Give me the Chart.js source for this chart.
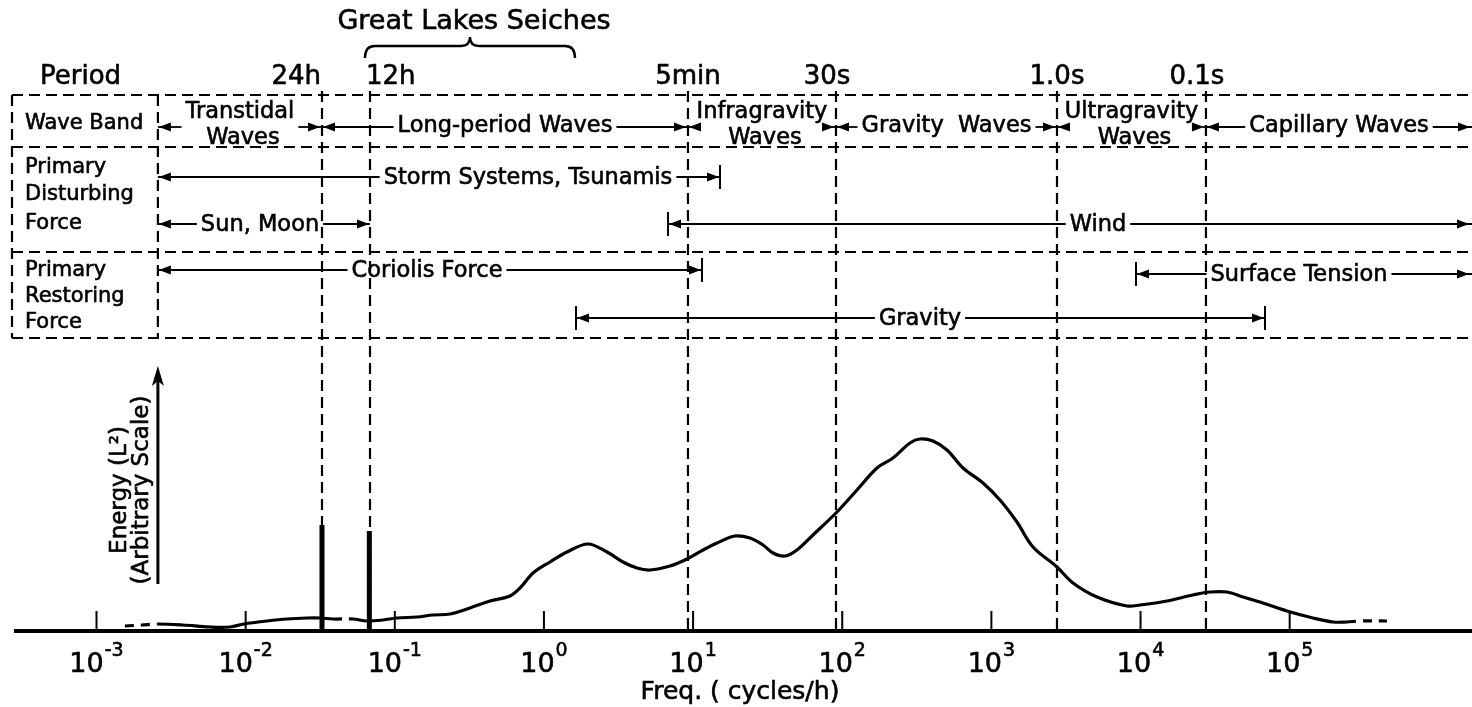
<!DOCTYPE html>
<html><head><meta charset="utf-8">
<script src="https://cdn.jsdelivr.net/npm/chart.js@4.4.1/dist/chart.umd.min.js"></script>
<style>html,body{margin:0;padding:0;background:#fff;}canvas{display:block;}</style>
</head><body>
<canvas id="c" width="1472" height="707"></canvas>
<script>
// ---------------- data (frequency in cycles/h, energy in arbitrary units) ----------------
const freqMin = 2.254e-4;
const freqMax = 1.669e6;
const tickExponents = [-3, -2, -1, 0, 1, 2, 3, 4, 5];

const curveFreq = [1.55e-3, 2.02e-3, 2.58e-3, 3.80e-3, 5.77e-3, 7.86e-3, 9.75e-3, 1.39e-2, 1.89e-2, 2.58e-2,
  3.15e-2, 3.85e-2, 5.24e-2, 6.51e-2, 8.33e-2, 0.1035, 0.1408, 0.1803, 0.2345, 0.319,
  0.435, 0.592, 0.691, 0.845, 1.098, 1.427, 1.974, 2.647, 3.388, 4.206,
  5.140, 7.001, 9.101, 11.65, 14.46, 19.10, 24.07, 29.42, 34.33, 41.32,
  49.74, 63.67, 92.22, 125.6, 171.0, 218.9, 284.6, 332.1, 405.9, 503.9,
  645.0, 878.5, 1142, 1484, 1901, 2754, 3525, 5105, 8113, 9915,
  15040, 22470, 29220, 37980, 48630, 66230, 95920, 143300, 195200, 242200,
  296000, 449100];
const curveEnergy = [0.5, 0.6, 0.7, 0.6, 0.4, 0.4, 0.7, 1.0, 1.2, 1.3,
  1.3, 1.2, 1.2, 1.0, 1.1, 1.3, 1.4, 1.6, 1.7, 2.3,
  3.0, 3.5, 4.3, 5.8, 6.9, 7.9, 8.7, 7.9, 6.9, 6.3,
  6.1, 6.5, 7.2, 8.1, 8.8, 9.5, 9.3, 8.6, 7.8, 7.5,
  8.1, 9.6, 11.9, 14.1, 16.3, 17.3, 18.8, 19.2, 19.0, 18.1,
  16.3, 14.8, 13.1, 10.9, 8.4, 6.4, 4.8, 3.4, 2.5, 2.6,
  3.0, 3.6, 3.9, 3.9, 3.4, 2.8, 2.0, 1.3, 0.9, 0.9,
  1.0, 1.0];
const dashedRanges = [[1.5e-3, 2.6e-3], [3.8e-2, 5.3e-2], [2.4e5, 4.6e5]];

const tideFreq = [3.25e-2, 6.75e-2];
const tideEnergy = [10.6, 10.0];

const periodLabels = ['24h', '12h', '5min', '30s', '1.0s', '0.1s'];
const periodFreq = [3.25e-2, 6.82e-2, 9.24, 90.8, 2754, 27460];
const tableLeftFreq = 2.58e-3;
const seicheRange = [6.31e-2, 1.615];

const bandNames = [['Transtidal', 'Waves'], ['Long-period Waves'], ['Infragravity', 'Waves'],
  ['Gravity  Waves'], ['Ultragravity', 'Waves'], ['Capillary Waves']];
const bandEdges = [2.58e-3, 3.25e-2, 9.24, 90.8, 2754, 27460, 1.669e6];

const disturbingNames = ['Storm Systems, Tsunamis', 'Sun, Moon', 'Wind'];
const disturbingFrom = [2.58e-3, 2.58e-3, 6.79];
const disturbingTo = [15.15, 6.82e-2, 1.669e6];
const disturbingLabelAt = [0.7818, 1.248e-2, 5184];

const restoringNames = ['Coriolis Force', 'Surface Tension', 'Gravity'];
const restoringFrom = [2.58e-3, 9322, 1.640];
const restoringTo = [11.47, 1.669e6, 68310];
const restoringLabelAt = [0.1644, 115500, 332.1];

// ---------------- styles / layout ----------------
const FONT = '"DejaVu Sans", "Liberation Sans", sans-serif';
const BASE_Y_PAD = 76;
const TEXT_PX = 22.5;
const HEADER_PX = 21;
const periodAlign = ['right', 'left', 'center', 'center', 'center', 'center'];
const periodDx = [-1, -4, 0, -9, 0, -9];
const disturbingY = [177, 224, 224];
const disturbingBars = [[false, true], [false, false], [true, false]];
const restoringY = [270, 274, 318];
const restoringBars = [[false, true], [true, false], [true, true]];
const TABLE = {left: 12, top: 95, rows: [147, 252], bottom: 338};

function isDashed(a, b) {
  return dashedRanges.some(r => a >= r[0] && b <= r[1]);
}

function txt(ctx, s, x, y) {
  ctx.fillText(s, x, y);
  ctx.save();
  ctx.setLineDash([]);
  ctx.lineWidth = 0.6;
  ctx.strokeText(s, x, y);
  ctx.restore();
}
function head(ctx, x, y, dir) {
  ctx.beginPath();
  ctx.moveTo(x, y);
  ctx.lineTo(x - dir * 12, y - 4.5);
  ctx.lineTo(x - dir * 12, y + 4.5);
  ctx.closePath();
  ctx.fill();
}
function hline(ctx, x1, x2, y) {
  if (x2 <= x1) return;
  ctx.beginPath(); ctx.moveTo(x1, y); ctx.lineTo(x2, y); ctx.stroke();
}
function vline(ctx, x, y1, y2) {
  ctx.beginPath(); ctx.moveTo(x, y1); ctx.lineTo(x, y2); ctx.stroke();
}

function rangeArrow(ctx, xa, xb, y, label, xc, bars) {
  ctx.font = TEXT_PX + 'px ' + FONT;
  ctx.textAlign = 'center';
  ctx.textBaseline = 'middle';
  const w = ctx.measureText(label).width;
  txt(ctx, label, xc, y + 1);
  ctx.setLineDash([]);
  ctx.lineWidth = 1.8;
  hline(ctx, xa, xc - w / 2 - 4, y);
  hline(ctx, xc + w / 2 + 4, xb, y);
  head(ctx, xa + 1, y, -1);
  head(ctx, Math.min(xb, 1470) - 1, y, 1);
  ctx.lineWidth = 2;
  if (bars[0]) vline(ctx, xa, y - 12, y + 12);
  if (bars[1]) vline(ctx, xb, y - 12, y + 12);
}

const annotations = {
  id: 'annotations',
  beforeDatasetsDraw(chart) {
    const ctx = chart.ctx;
    const xs = chart.scales.x;
    const ys = chart.scales.y;
    const px = v => xs.getPixelForValue(v);
    const base = ys.getPixelForValue(0);
    ctx.save();
    ctx.strokeStyle = '#000';
    ctx.fillStyle = '#000';
    // baseline
    ctx.lineWidth = 4;
    ctx.setLineDash([]);
    hline(ctx, 14, chart.width, base);
    // ticks
    ctx.lineWidth = 2;
    tickExponents.forEach(e => vline(ctx, px(Math.pow(10, e)), base - 20, base));
    // tick labels
    ctx.textBaseline = 'alphabetic';
    tickExponents.forEach(e => {
      const cx = px(Math.pow(10, e));
      ctx.font = '27px ' + FONT;
      const w1 = ctx.measureText('10').width;
      ctx.font = '19px ' + FONT;
      const ex = e < 0 ? '-' + Math.abs(e) : String(e);
      const w2 = ctx.measureText(ex).width;
      const x0 = cx - (w1 + w2 + 1) / 2;
      ctx.textAlign = 'left';
      ctx.font = '27px ' + FONT;
      txt(ctx, '10', x0, base + 41);
      ctx.font = '19px ' + FONT;
      txt(ctx, ex, x0 + w1 + 1, base + 25);
    });
    ctx.font = '25px ' + FONT;
    ctx.textAlign = 'center';
    txt(ctx, 'Freq. ( cycles/h)', 740, base + 68);

    // dashed period lines
    ctx.lineWidth = 2.2;
    ctx.setLineDash([11, 6]);
    periodFreq.forEach(f => vline(ctx, px(f), TABLE.top - 4, base));
    // table
    vline(ctx, px(tableLeftFreq), TABLE.top, TABLE.bottom);
    vline(ctx, TABLE.left, TABLE.top, TABLE.bottom);
    [TABLE.top, ...TABLE.rows, TABLE.bottom].forEach(y => hline(ctx, TABLE.left, chart.width, y));
    ctx.setLineDash([]);
    ctx.restore();
  },
  afterDraw(chart) {
    const ctx = chart.ctx;
    const xs = chart.scales.x;
    const px = v => xs.getPixelForValue(v);
    ctx.save();
    ctx.strokeStyle = '#000';
    ctx.fillStyle = '#000';

    // title + brace
    ctx.font = '27px ' + FONT;
    ctx.textAlign = 'center';
    ctx.textBaseline = 'middle';
    txt(ctx, 'Great Lakes Seiches', 474, 22);
    const b1 = px(seicheRange[0]), b2 = px(seicheRange[1]), bm = (b1 + b2) / 2;
    ctx.lineWidth = 2.4;
    ctx.beginPath();
    ctx.moveTo(b1, 58);
    ctx.quadraticCurveTo(b1, 46, b1 + 10, 46);
    ctx.lineTo(bm - 9, 46);
    ctx.quadraticCurveTo(bm, 46, bm, 37);
    ctx.quadraticCurveTo(bm, 46, bm + 9, 46);
    ctx.lineTo(b2 - 10, 46);
    ctx.quadraticCurveTo(b2, 46, b2, 58);
    ctx.stroke();

    // period labels
    ctx.font = '26px ' + FONT;
    ctx.textBaseline = 'alphabetic';
    ctx.textAlign = 'left';
    txt(ctx, 'Period', 40, 84);
    periodLabels.forEach((t, i) => {
      ctx.textAlign = periodAlign[i];
      txt(ctx, t, px(periodFreq[i]) + periodDx[i], 84);
    });

    // row headers
    ctx.font = HEADER_PX + 'px ' + FONT;
    ctx.textAlign = 'left';
    ctx.textBaseline = 'middle';
    txt(ctx, 'Wave Band', 25, 124);
    txt(ctx, 'Primary', 25, 168);
    txt(ctx, 'Disturbing', 25, 195);
    txt(ctx, 'Force', 25, 224);
    txt(ctx, 'Primary', 25, 271);
    txt(ctx, 'Restoring', 25, 297);
    txt(ctx, 'Force', 25, 323);

    // wave bands
    for (let i = 0; i < bandNames.length; i++) {
      const xl = px(bandEdges[i]);
      const xr = Math.min(px(bandEdges[i + 1]), chart.width);
      const c = (xl + xr) / 2;
      const lines = bandNames[i];
      ctx.font = TEXT_PX + 'px ' + FONT;
      ctx.textAlign = 'center';
      let w = 0;
      lines.forEach(l => { w = Math.max(w, ctx.measureText(l).width); });
      if (lines.length === 1) {
        txt(ctx, lines[0], c, 126);
      } else {
        txt(ctx, lines[0], c, 112);
        txt(ctx, lines[1], c + 3, 138);
      }
      const ay = 127;
      ctx.lineWidth = 1.8;
      hline(ctx, xl, c - w / 2 - 4, ay);
      hline(ctx, c + w / 2 + 4, xr, ay);
      head(ctx, xl + 1, ay, -1);
      head(ctx, xr - 2, ay, 1);
    }

    // disturbing / restoring forces
    disturbingNames.forEach((n, i) => rangeArrow(ctx, px(disturbingFrom[i]), px(disturbingTo[i]),
      disturbingY[i], n, px(disturbingLabelAt[i]), disturbingBars[i]));
    restoringNames.forEach((n, i) => rangeArrow(ctx, px(restoringFrom[i]), px(restoringTo[i]),
      restoringY[i], n, px(restoringLabelAt[i]), restoringBars[i]));

    // energy axis arrow + label
    const ax = px(tableLeftFreq);
    ctx.lineWidth = 3;
    vline(ctx, ax, 584, 380);
    ctx.beginPath();
    ctx.moveTo(ax, 366);
    ctx.lineTo(ax - 6, 386);
    ctx.lineTo(ax, 381);
    ctx.lineTo(ax + 6, 386);
    ctx.closePath();
    ctx.fill();
    ctx.save();
    ctx.translate(120, 490);
    ctx.rotate(-Math.PI / 2);
    ctx.font = '23px ' + FONT;
    ctx.textAlign = 'center';
    ctx.textBaseline = 'middle';
    txt(ctx, 'Energy (L\u00B2)', 0, 0);
    txt(ctx, '(Arbitrary Scale)', 0, 22);
    ctx.restore();
    ctx.restore();
  }
};

const curveData = curveFreq.map((f, i) => ({x: f, y: curveEnergy[i]}));
const tideData = [];
tideFreq.forEach((f, i) => {
  if (i > 0) tideData.push({x: (tideFreq[i - 1] + f) / 2, y: null});
  tideData.push({x: f, y: 0});
  tideData.push({x: f, y: tideEnergy[i]});
});

new Chart(document.getElementById('c'), {
  type: 'line',
  data: {
    datasets: [
      {
        label: 'Energy spectrum',
        data: curveData,
        borderColor: '#000',
        borderWidth: 3.2,
        pointRadius: 0,
        tension: 0.35,
        fill: false,
        segment: {
          borderDash: ctx => isDashed(ctx.p0.parsed.x, ctx.p1.parsed.x) ? [9, 7] : undefined
        }
      },
      {
        label: 'Tides',
        data: tideData,
        borderColor: '#000',
        borderWidth: 5,
        pointRadius: 0,
        tension: 0,
        spanGaps: false,
        borderCapStyle: 'butt'
      }
    ]
  },
  options: {
    responsive: false,
    animation: false,
    events: [],
    layout: {padding: {left: 0, right: 0, top: 0, bottom: BASE_Y_PAD}},
    plugins: {legend: {display: false}, tooltip: {enabled: false}},
    scales: {
      x: {type: 'logarithmic', min: freqMin, max: freqMax, display: false},
      y: {type: 'linear', min: 0, max: 63.1, display: false}
    }
  },
  plugins: [annotations]
});
</script>
</body></html>
